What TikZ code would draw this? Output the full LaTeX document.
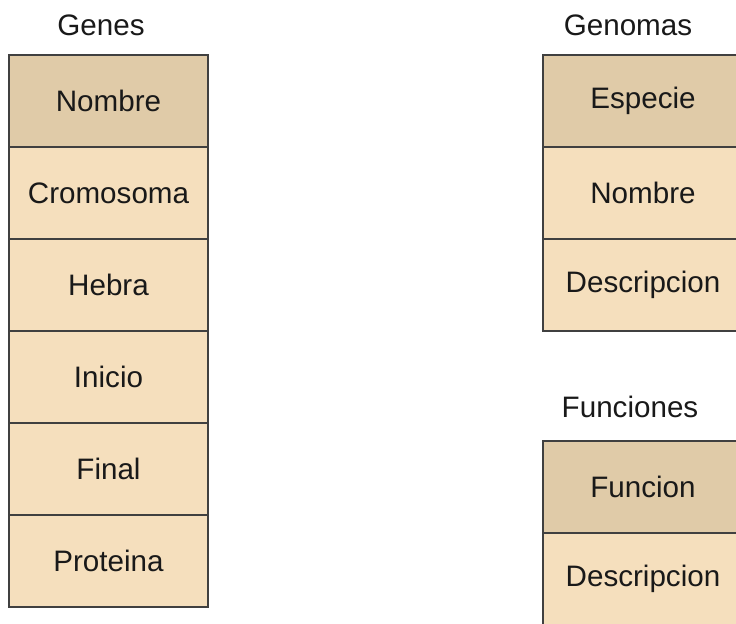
\documentclass[tikz,border=0pt]{standalone}
\usepackage{fontspec}
\setmainfont{Liberation Sans}
\begin{document}
\begin{tikzpicture}[x=0.5pt,y=-0.5pt,
  cell/.style={draw=black!75, line width=1pt, minimum width=99.5pt, minimum height=46pt,
    inner sep=0pt, outer sep=0pt, font=\fontsize{14.8}{17}\selectfont, text=black!90},
  keycell/.style={cell, fill=keytan},
  datacell/.style={cell, fill=datatan},
  title/.style={font=\fontsize{14.8}{17}\selectfont, text=black!90}]
\definecolor{keytan}{HTML}{E0CBA8}
\definecolor{datatan}{HTML}{F5DFBD}
\useasboundingbox (0,0) rectangle (736,624);
% Genes table
\node[title] (genesT) at (101,25) {Genes};
\node[keycell, anchor=north west] (g1) at (9,55) {Nombre};
\node[datacell, anchor=north] (g2) at (g1.south) {Cromosoma};
\node[datacell, anchor=north] (g3) at (g2.south) {Hebra};
\node[datacell, anchor=north] (g4) at (g3.south) {Inicio};
\node[datacell, anchor=north] (g5) at (g4.south) {Final};
\node[datacell, anchor=north] (g6) at (g5.south) {Proteina};
% Genomas table
\node[title] (genomasT) at (628,25) {Genomas};
\node[keycell, anchor=north west, minimum width=100pt] (m1) at (543,55) {Especie};
\node[datacell, anchor=north, minimum width=100pt] (m2) at (m1.south) {Nombre};
\node[datacell, anchor=north, minimum width=100pt] (m3) at (m2.south) {Descripcion};
% Funciones table
\node[title] (funcT) at (630,407) {Funciones};
\node[keycell, anchor=north west, minimum width=100pt] (f1) at (543,441) {Funcion};
\node[datacell, anchor=north, minimum width=100pt] (f2) at (f1.south) {Descripcion};
\end{tikzpicture}
\end{document}
